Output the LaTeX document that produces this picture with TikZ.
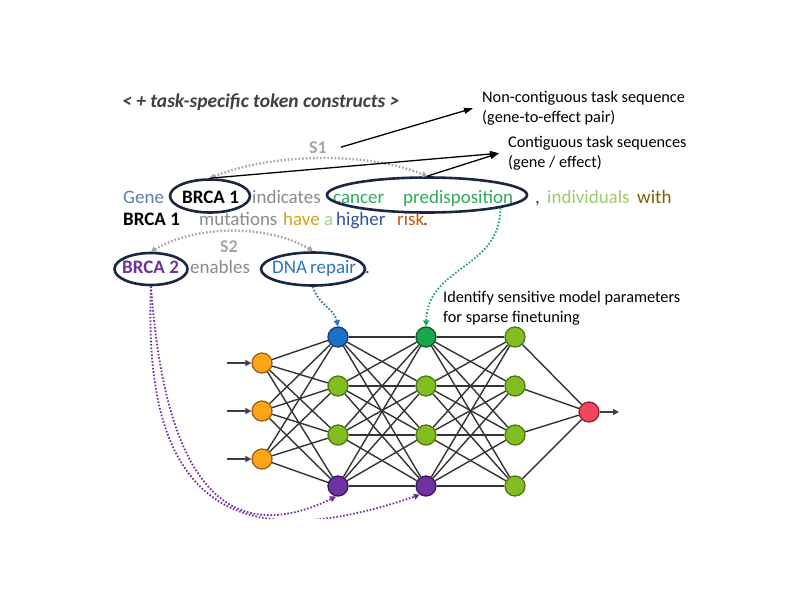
\documentclass[tikz,border=0pt]{standalone}
\usepackage{fontspec}
\setmainfont{Carlito}
\usetikzlibrary{shapes.geometric,arrows.meta}
\definecolor{gtext}{HTML}{5B7DB8}
\definecolor{grayw}{HTML}{8A8A8A}
\definecolor{cancerg}{HTML}{2EAA5C}
\definecolor{indivg}{HTML}{9CCB6A}
\definecolor{witho}{HTML}{7F6000}
\definecolor{haveg}{HTML}{D4A21A}
\definecolor{ag}{HTML}{A9D18E}
\definecolor{higherb}{HTML}{2F5597}
\definecolor{risko}{HTML}{C55A11}
\definecolor{purp}{HTML}{7030A0}
\definecolor{dnab}{HTML}{2E75B6}
\definecolor{navy}{HTML}{1B2642}
\definecolor{titlec}{HTML}{404040}
\definecolor{sgray}{HTML}{A6A6A6}
\definecolor{edgec}{HTML}{333333}
\definecolor{greenlink}{HTML}{1FA862}
\definecolor{orangeN}{HTML}{FBA518}
\definecolor{orangeB}{HTML}{9A6416}
\definecolor{limeN}{HTML}{82BD22}
\definecolor{limeB}{HTML}{4C7A10}
\definecolor{blueN}{HTML}{1C72C9}
\definecolor{blueB}{HTML}{173E73}
\definecolor{greenN}{HTML}{17A64D}
\definecolor{greenB}{HTML}{0E5A2C}
\definecolor{purpB}{HTML}{3B1760}
\definecolor{redN}{HTML}{F2475A}
\definecolor{redB}{HTML}{8E2431}
\tikzset{
  word/.style={anchor=base west, inner sep=0pt, font=\fontsize{19}{22}\selectfont},
  bword/.style={word, font=\fontsize{19}{22}\selectfont\bfseries},
  ring/.style={ellipse, draw=navy, line width=2.6pt, inner sep=0pt},
  neuron/.style={circle, line width=1.3pt, minimum size=20pt, inner sep=0pt},
  orangeneuron/.style={neuron, fill=orangeN, draw=orangeB},
  limeneuron/.style={neuron, fill=limeN, draw=limeB},
  blueneuron/.style={neuron, fill=blueN, draw=blueB},
  greenneuron/.style={neuron, fill=greenN, draw=greenB},
  purpneuron/.style={neuron, fill=purp, draw=purpB},
  redneuron/.style={neuron, fill=redN, draw=redB},
  edge/.style={draw=edgec, line width=1.4pt},
  inarrow/.style={draw=titlec, line width=2pt, -{Triangle[length=6pt,width=6pt]}},
  annot/.style={anchor=north west, inner sep=0pt, align=left, font=\fontsize{16.3}{20}\selectfont},
  annarrow/.style={draw=black, line width=1.3pt, -{Triangle[length=9pt,width=6pt]}},
  sarc/.style={draw=sgray, line width=2.4pt, dash pattern=on 1.6pt off 2pt, {Triangle[length=5pt,width=6pt]}-{Triangle[length=5pt,width=6pt]}},
  slabel/.style={anchor=base west, inner sep=0pt, text=sgray, font=\fontsize{18}{20}\selectfont\bfseries},
  linkarrow/.style={line width=1.8pt, dash pattern=on 1.6pt off 1.8pt, -{Triangle[length=6pt,width=6pt]}},
}
\begin{document}
\begin{tikzpicture}[x=1pt,y=-1pt]
\fill[white] (0,0) rectangle (800,600);
\useasboundingbox (0,0) rectangle (800,600);

% title
\node[anchor=base west, inner sep=0pt, text=titlec, font=\fontsize{19.5}{22}\selectfont\bfseries\itshape] (title) at (122,107) {< + task-specific token constructs >};

% line 1
\node[word, text=gtext] (w1) at (123,203) {Gene};
\node[bword] (w2) at (182,203) {BRCA 1};
\node[word, text=grayw] (w3) at (252,203) {indicates};
\node[word, text=cancerg] (w4) at (333,203) {cancer};
\node[word, text=cancerg] (w5) at (403,203) {predisposition};
\node[word, text=titlec] (w6) at (535,203) {,};
\node[word, text=indivg] (w7) at (547,203) {individuals};
\node[word, text=witho] (w8) at (637,203) {with};
% line 2
\node[bword] (v1) at (123,225) {BRCA 1};
\node[word, text=grayw] (v2) at (199,225) {mutations};
\node[word, text=haveg] (v3) at (283,225) {have};
\node[word, text=ag] (v4) at (324,225) {a};
\node[word, text=higherb] (v5) at (336,225) {higher};
\node[word, text=risko] (v6) at (397,225) {risk};
\node[word, text=titlec] (v7) at (423,225) {.};
% line 3
\node[bword, text=purp] (u1) at (122,273) {BRCA 2};
\node[word, text=grayw] (u2) at (190,273) {enables};
\node[word, text=dnab] (u3) at (272,273) {DNA};
\node[word, text=dnab] (u4) at (310,273) {repair};
\node[word, text=titlec] (u5) at (365,273) {.};

% ellipses
\node[ring, minimum width=80pt, minimum height=33pt] (b1e) at (210,196) {};
\node[ring, minimum width=200pt, minimum height=35pt] (cpe) at (427,195) {};
\node[ring, minimum width=73pt, minimum height=32pt] (b2e) at (151,269) {};
\node[ring, minimum width=104pt, minimum height=33pt] (dne) at (313,269) {};

% S labels and arcs
\node[slabel] (s1) at (309,153) {S1};
\node[slabel] (s2) at (220,252) {S2};
\draw[sarc] (b1e.north) .. controls +(60,-25) and +(-60,-25) .. (cpe.north);
\draw[sarc] (b2e.north) .. controls +(45,-27) and +(-45,-27) .. (dne.north);

% annotations
\node[annot] (nc) at (482,91) {Non-contiguous task sequence\\(gene-to-effect pair)};
\node[annot] (ct) at (508,136) {Contiguous task sequences\\(gene / effect)};
\node[annot] (idn) at (443,291) {Identify sensitive model parameters\\for sparse finetuning};
\draw[annarrow] ([xshift=14pt]s1.east) -- ([xshift=-9pt]nc.west);
\draw[annarrow] (b1e.north) -- ([xshift=-9pt]ct.west);
\draw[annarrow] (cpe.north) -- ([xshift=-9pt]ct.west);

% network
\node[orangeneuron] (i1) at (262,363) {};
\node[orangeneuron] (i2) at (262,411) {};
\node[orangeneuron] (i3) at (262,459) {};
\node[blueneuron] (a1) at (338,337) {};
\node[limeneuron] (a2) at (338,386) {};
\node[limeneuron] (a3) at (338,435) {};
\node[purpneuron] (a4) at (338,486) {};
\node[greenneuron] (b1) at (426,337) {};
\node[limeneuron] (b2) at (426,386) {};
\node[limeneuron] (b3) at (426,435) {};
\node[purpneuron] (b4) at (426,486) {};
\node[limeneuron] (c1) at (515,337) {};
\node[limeneuron] (c2) at (515,386) {};
\node[limeneuron] (c3) at (515,435) {};
\node[limeneuron] (c4) at (515,486) {};
\node[redneuron] (o) at (589,412) {};
\foreach \p in {1,2,3} \foreach \q in {1,2,3,4} \draw[edge] (i\p) -- (a\q);
\foreach \p in {1,2,3,4} \foreach \q in {1,2,3,4} {\draw[edge] (a\p) -- (b\q); \draw[edge] (b\p) -- (c\q);}
\foreach \p in {1,2,3,4} \draw[edge] (c\p) -- (o);
\coordinate (x1) at (227,363);
\coordinate (x2) at (227,411);
\coordinate (x3) at (227,459);
\coordinate (y1) at (619,412);
\draw[inarrow] (x1) -- (i1);
\draw[inarrow] (x2) -- (i2);
\draw[inarrow] (x3) -- (i3);
\draw[inarrow] (o) -- (y1);

% link arrows
\draw[linkarrow, color=greenlink] (cpe.-10) .. controls (500,270) and (428,265) .. (b1.north);
\draw[linkarrow, color=dnab] (dne.south) .. controls (318,305) and (334,308) .. (a1.north);
\begin{scope}
\clip (0,0) rectangle (800,518);
\draw[linkarrow, color=purp] (b2e.south) .. controls (162,440) and (205,560) .. (a4.-100);
\draw[linkarrow, color=purp] (b2e.south) .. controls (142,500) and (230,560) .. (b4.-125);
\end{scope}
\end{tikzpicture}
\end{document}
